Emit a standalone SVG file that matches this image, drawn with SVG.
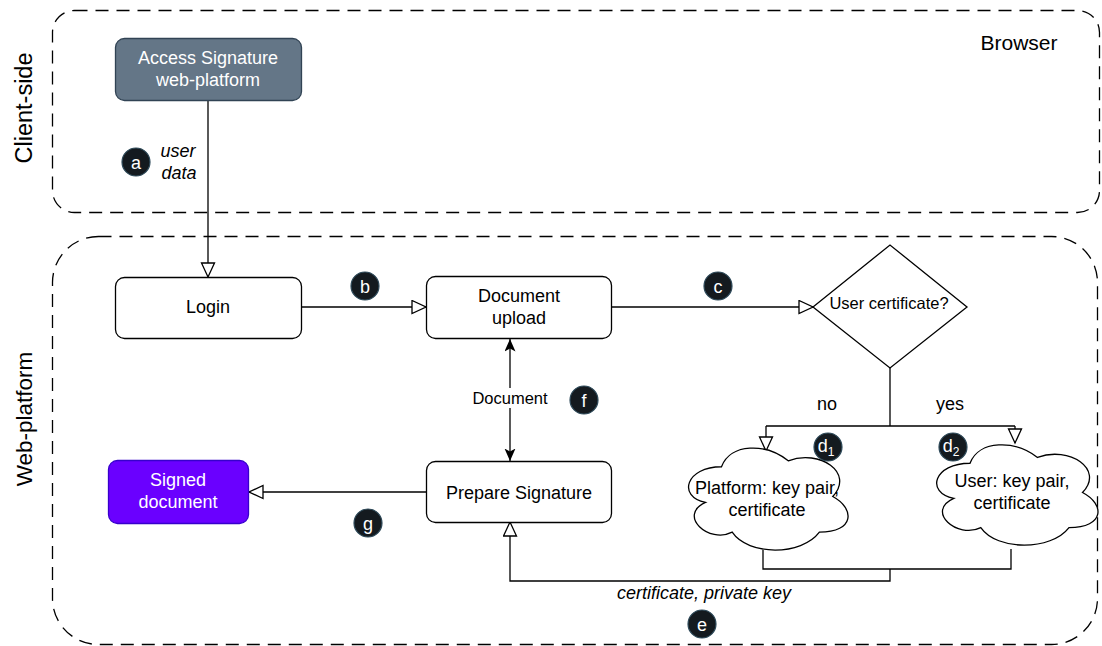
<svg xmlns="http://www.w3.org/2000/svg" width="1102" height="646" viewBox="0 0 1102 646">
<defs>
<style>
text{font-family:"Liberation Sans",Arial,sans-serif;fill:#000}
.lbl{font-size:18px;text-anchor:middle}
.sm{font-size:16.5px;text-anchor:middle}
.it{font-style:italic}
.big{font-size:22.5px;text-anchor:middle}
.cont{fill:none;stroke:#000;stroke-width:1.3;stroke-dasharray:13 8}
.node{fill:#fff;stroke:#000;stroke-width:1.3}
.edge{fill:none;stroke:#000;stroke-width:1.3}
.badge circle{fill:#141a1f;stroke:#2e4a5a;stroke-width:1.2}
.badge text{fill:#fff;font-size:18px;text-anchor:middle}
</style>
<marker id="open" markerUnits="userSpaceOnUse" markerWidth="17" markerHeight="16" viewBox="0 0 17 16" refX="15" refY="7.5" orient="auto">
<path d="M1,1 L15,7.5 L1,14 Z" fill="#fff" stroke="#000" stroke-width="1.3"/>
</marker>
<marker id="fill" markerUnits="userSpaceOnUse" markerWidth="14" markerHeight="12" viewBox="0 0 14 12" refX="12.5" refY="5.5" orient="auto-start-reverse">
<path d="M0,0 L12.5,5.5 L0,11 L3,5.5 Z" fill="#000"/>
</marker>
</defs>

<g id="containers">
<rect id="client-side" class="cont" x="52.5" y="10.5" width="1047" height="202" rx="22" ry="22"/>
<rect id="web-platform" class="cont" x="52.5" y="236.5" width="1045" height="408" rx="46" ry="46"/>
<text class="big" style="font-size:23.5px" transform="translate(32,108) rotate(-90)">Client-side</text>
<text class="big" transform="translate(32,419) rotate(-90)">Web-platform</text>
<text x="1019" y="50" style="font-size:21px;text-anchor:middle">Browser</text>
</g>

<g id="connectors">
<path class="edge" d="M208,100 V277" marker-end="url(#open)"/>
<path class="edge" d="M301,307 H426" marker-end="url(#open)"/>
<path class="edge" d="M611,307 H813" marker-end="url(#open)"/>
<path class="edge" d="M890,368 V426 M766,426 H1015"/>
<path class="edge" d="M766,426 V451" marker-end="url(#open)"/>
<path class="edge" d="M1015,426 V443" marker-end="url(#open)"/>
<path class="edge" d="M763,550 V569 H1011 V549"/>
<path class="edge" d="M890,569 V581 H510 V522" marker-end="url(#open)"/>
<path class="edge" d="M426,492 H249" marker-end="url(#open)"/>
<path class="edge" d="M510,339 V461" marker-start="url(#fill)" marker-end="url(#fill)"/>
<rect x="471" y="388" width="79" height="20" fill="#fff"/>
<text class="sm" x="510" y="404">Document</text>
<text class="lbl it" x="178" y="157">user</text>
<text class="lbl it" x="179" y="179">data</text>
<text class="lbl it" x="704" y="599">certificate, private key</text>
<text class="lbl" x="827" y="410">no</text>
<text class="lbl" x="950" y="410">yes</text>
</g>

<g id="access">
<rect x="115.5" y="38.5" width="186" height="62" rx="9" fill="#647687" stroke="#314354" stroke-width="1.3"/>
<text class="lbl" x="208" y="63.5" style="fill:#fff">Access Signature</text>
<text class="lbl" x="208" y="85.5" style="fill:#fff">web-platform</text>
</g>

<g id="login">
<rect class="node" x="115.5" y="277.5" width="186" height="61" rx="9"/>
<text class="lbl" x="208" y="313">Login</text>
</g>

<g id="document-upload">
<rect class="node" x="426.5" y="276.5" width="185" height="62" rx="9"/>
<text class="lbl" x="519" y="301.5">Document</text>
<text class="lbl" x="519" y="323.5">upload</text>
</g>

<g id="prepare-signature">
<rect class="node" x="426.5" y="461.5" width="185" height="61" rx="9"/>
<text class="lbl" x="519" y="498.5">Prepare Signature</text>
</g>

<g id="signed-document">
<rect x="108.5" y="460.5" width="140" height="63" rx="9" fill="#6a00ff" stroke="#3700cc" stroke-width="1.3"/>
<text class="lbl" x="178" y="486" style="fill:#fff">Signed</text>
<text class="lbl" x="178" y="508" style="fill:#fff">document</text>
</g>

<g id="user-certificate">
<polygon class="node" points="813,307 890,245 967,307 890,368"/>
<text class="lbl" x="889" y="309" style="font-size:16.5px">User certificate?</text>
</g>

<g id="platform-keys">
<path class="node" d="M721.5,466.75 C685.9,466.75 677,496.5 705.5,502.45 C677,515.5 709,544.1 732.2,532.2 C748.2,556 801.6,556 819.4,532.2 C855,532.2 855,508.4 832.75,496.5 C855,472.7 819.4,448.9 788.25,460.8 C766,442.95 730.4,442.95 721.5,466.75 Z"/>
<text class="lbl" x="767" y="494">Platform: key pair,</text>
<text class="lbl" x="767" y="516">certificate</text>
</g>

<g id="user-keys">
<path class="node" d="M970,463.25 C934,463.25 925,492.5 953.8,498.35 C925,511.2 957.4,539.3 980.8,527.6 C997,551 1051,551 1069,527.6 C1105,527.6 1105,504.2 1082.5,492.5 C1105,469.1 1069,445.7 1037.5,457.4 C1015,439.85 979,439.85 970,463.25 Z"/>
<text class="lbl" x="1012" y="487">User: key pair,</text>
<text class="lbl" x="1012" y="509">certificate</text>
</g>

<g id="badges">
<g class="badge"><circle cx="136" cy="162" r="14"/><text x="136" y="168.5">a</text></g>
<g class="badge"><circle cx="365" cy="286" r="14"/><text x="365" y="292.5">b</text></g>
<g class="badge"><circle cx="718" cy="286" r="14"/><text x="718" y="292.5">c</text></g>
<g class="badge"><circle cx="828" cy="447" r="14"/><text x="826" y="452">d<tspan dy="4" style="font-size:12px">1</tspan></text></g>
<g class="badge"><circle cx="953" cy="447" r="14"/><text x="951" y="452">d<tspan dy="4" style="font-size:12px">2</tspan></text></g>
<g class="badge"><circle cx="702" cy="624" r="14"/><text x="702" y="630.5">e</text></g>
<g class="badge"><circle cx="584" cy="400" r="14"/><text x="584" y="406.5">f</text></g>
<g class="badge"><circle cx="368" cy="523" r="14"/><text x="368" y="529.5">g</text></g>
</g>
</svg>
